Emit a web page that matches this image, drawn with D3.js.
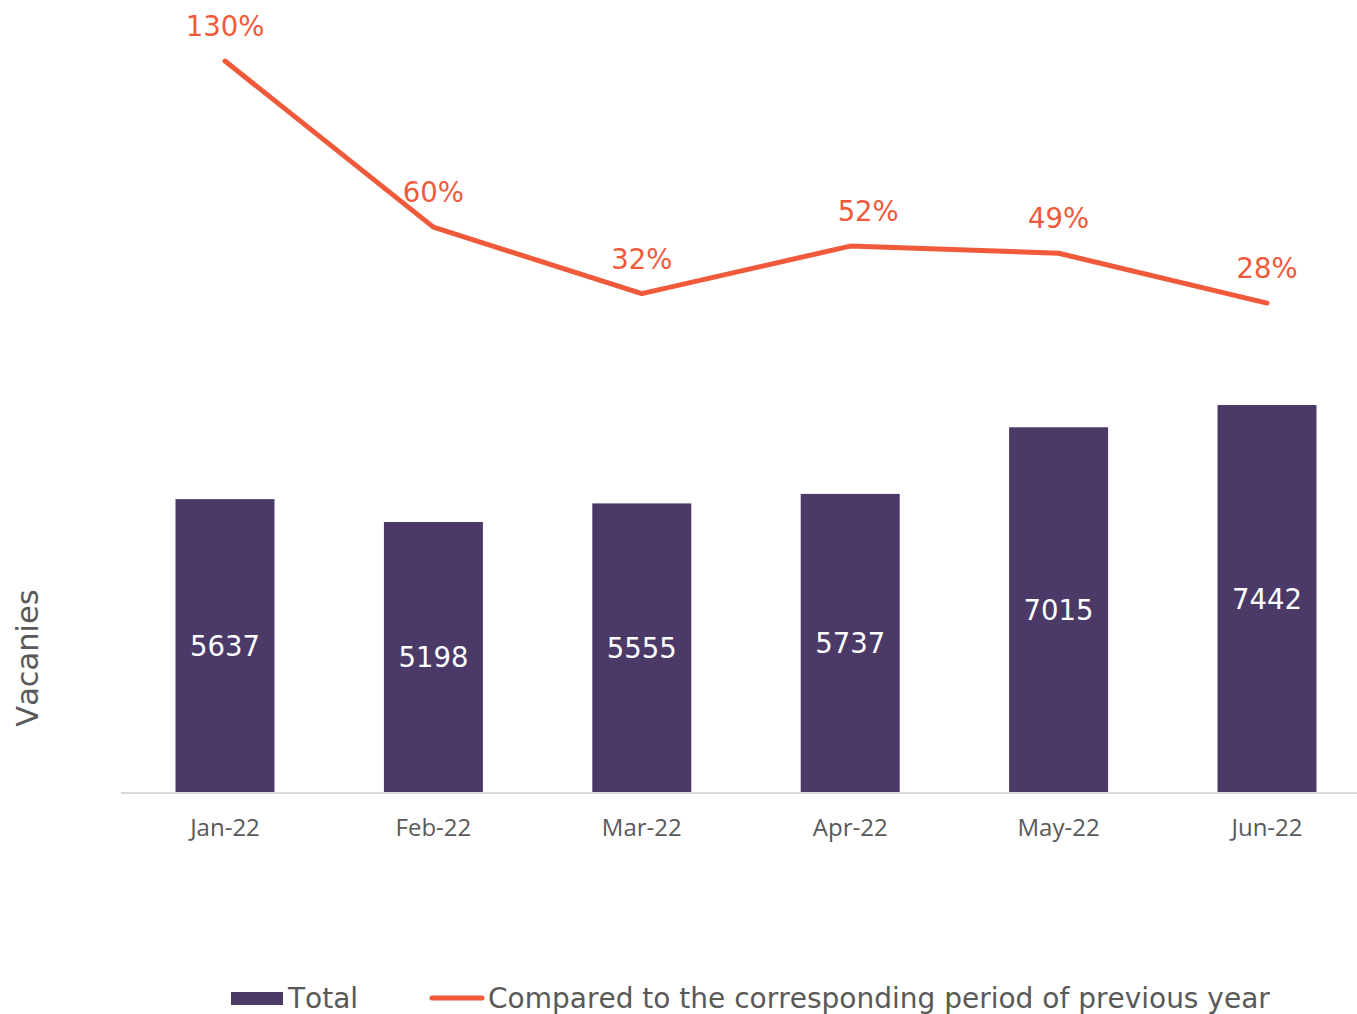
<!DOCTYPE html>
<html>
<head>
<meta charset="utf-8">
<script src="https://cdn.jsdelivr.net/npm/d3@7"></script>
<style>
  html, body { margin: 0; padding: 0; background: #fff; }
  svg { display: block; }
  text { font-kerning: none; }
</style>
</head>
<body>
<svg id="chart" width="1357" height="1014"></svg>
<script>
const categories = ["Jan-22", "Feb-22", "Mar-22", "Apr-22", "May-22", "Jun-22"];
const totals = [5637, 5198, 5555, 5737, 7015, 7442];
const yoyPct = [130, 60, 32, 52, 49, 28];
const seriesNames = ["Total", "Compared to the corresponding period of previous year"];
const yAxisTitle = "Vacanies";

const barColor = "#4b3a68";
const lineColor = "#f05a3a";
const textGray = "#595959";

const svg = d3.select("#chart");

const x = d3.scaleBand()
  .domain(categories)
  .range([120.8, 1371.2])
  .paddingInner(0.525)
  .paddingOuter(0.2625);

const yBar = d3.scaleLinear().domain([0, 15000]).range([793, 11]);
const yLine = d3.scaleLinear().domain([0, 140]).range([369.5, 37.3]);

// bars
svg.append("g").selectAll("rect")
  .data(totals)
  .join("rect")
  .attr("x", (d, i) => x(categories[i]))
  .attr("y", d => yBar(d))
  .attr("width", x.bandwidth())
  .attr("height", d => yBar(0) - yBar(d))
  .attr("fill", barColor);

// bar labels
svg.append("g").selectAll("text")
  .data(totals)
  .join("text")
  .attr("x", (d, i) => x(categories[i]) + x.bandwidth() / 2)
  .attr("y", d => (yBar(d) + yBar(0)) / 2)
  .attr("dy", "0.36em")
  .attr("text-anchor", "middle")
  .attr("font-family", "DejaVu Sans")
  .attr("font-size", 27.5)
  .attr("fill", "#ffffff")
  .text(d => d);

// x axis
const xAxis = svg.append("g")
  .attr("transform", "translate(0,793)")
  .call(d3.axisBottom(x).tickSize(0).tickPadding(0));
xAxis.select(".domain").remove();
xAxis.append("line")
  .attr("x1", 121).attr("x2", 1357)
  .attr("y1", 0).attr("y2", 0)
  .attr("stroke", "#d9d9d9").attr("stroke-width", 2);
xAxis.selectAll(".tick text")
  .attr("y", 35)
  .attr("dy", "0.35em")
  .attr("font-family", "Open Sans")
  .attr("font-size", 24)
  .attr("fill", textGray);

// line
const line = d3.line()
  .x((d, i) => x(categories[i]) + x.bandwidth() / 2)
  .y(d => yLine(d));
svg.append("path")
  .datum(yoyPct)
  .attr("d", line)
  .attr("fill", "none")
  .attr("stroke", lineColor)
  .attr("stroke-width", 5)
  .attr("stroke-linecap", "round")
  .attr("stroke-linejoin", "round");

svg.append("g").selectAll("text")
  .data(yoyPct)
  .join("text")
  .attr("x", (d, i) => x(categories[i]) + x.bandwidth() / 2 + (i === 3 ? 18 : 0))
  .attr("y", d => yLine(d) - 25)
  .attr("text-anchor", "middle")
  .attr("font-family", "DejaVu Sans")
  .attr("font-size", 27.5)
  .attr("fill", lineColor)
  .text(d => d + "%");

// y axis title
svg.append("text")
  .attr("transform", "translate(38,658) rotate(-90)")
  .attr("text-anchor", "middle")
  .attr("font-family", "DejaVu Sans")
  .attr("font-size", 30.5)
  .attr("fill", textGray)
  .text(yAxisTitle);

// legend
const lg = svg.append("g");
lg.append("rect")
  .attr("x", 231).attr("y", 992).attr("width", 52).attr("height", 13)
  .attr("fill", barColor);
lg.append("text")
  .attr("x", 288).attr("y", 998).attr("dy", "0.35em")
  .attr("font-family", "DejaVu Sans").attr("font-size", 28)
  .attr("fill", textGray).text(seriesNames[0]);
lg.append("line")
  .attr("x1", 432).attr("x2", 482).attr("y1", 998).attr("y2", 998)
  .attr("stroke", lineColor).attr("stroke-width", 5).attr("stroke-linecap", "round");
lg.append("text")
  .attr("x", 488).attr("y", 998).attr("dy", "0.35em")
  .attr("font-family", "DejaVu Sans").attr("font-size", 28)
  .attr("fill", textGray).text(seriesNames[1]);
</script>
</body>
</html>
